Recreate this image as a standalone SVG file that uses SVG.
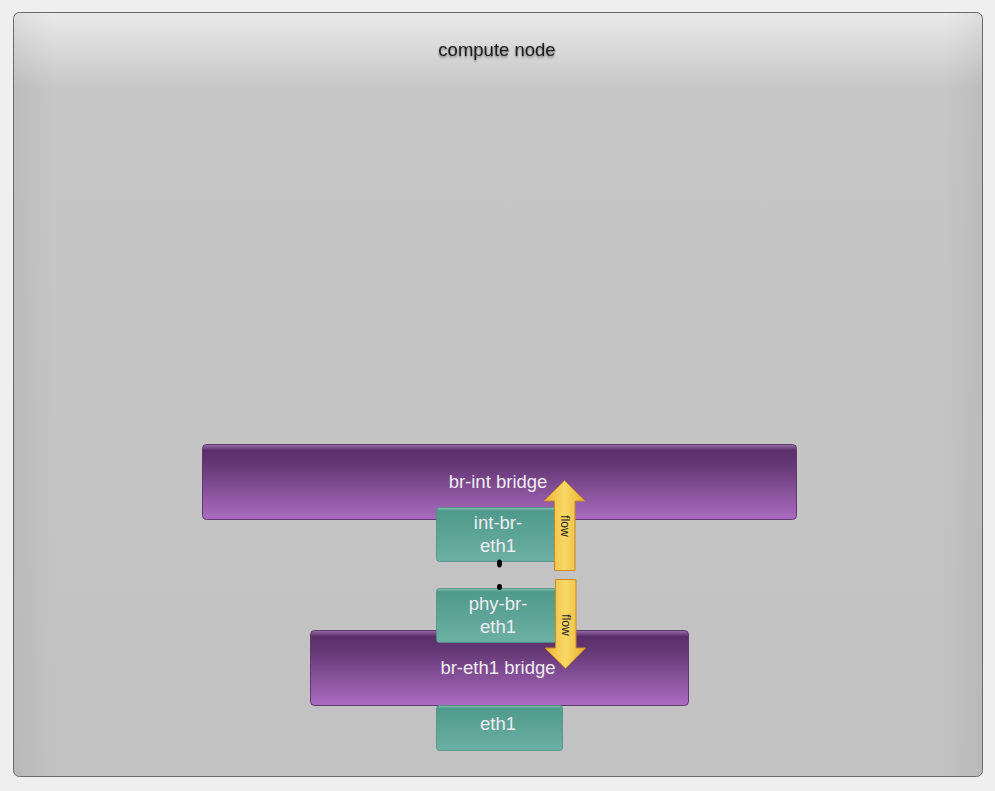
<svg xmlns="http://www.w3.org/2000/svg" width="995" height="791" viewBox="0 0 995 791">
<defs>
<linearGradient id="bg" x1="0" y1="0" x2="0" y2="1">
<stop offset="0" stop-color="#eaeaea"/>
<stop offset="0.1" stop-color="#c6c6c6"/>
<stop offset="1" stop-color="#c2c2c2"/>
</linearGradient>
<linearGradient id="side" x1="0" y1="0" x2="1" y2="0">
<stop offset="0" stop-color="#000" stop-opacity="0.05"/>
<stop offset="0.04" stop-color="#000" stop-opacity="0"/>
<stop offset="0.96" stop-color="#000" stop-opacity="0"/>
<stop offset="1" stop-color="#000" stop-opacity="0.05"/>
</linearGradient>
<linearGradient id="purple" x1="0" y1="0" x2="0" y2="1">
<stop offset="0" stop-color="#9a70a8"/>
<stop offset="0.08" stop-color="#5a2e68"/>
<stop offset="0.3" stop-color="#673a78"/>
<stop offset="1" stop-color="#ab6cc0"/>
</linearGradient>
<linearGradient id="teal" x1="0" y1="0" x2="0" y2="1">
<stop offset="0" stop-color="#8cc4b8"/>
<stop offset="0.06" stop-color="#4f9a8b"/>
<stop offset="1" stop-color="#6cb0a3"/>
</linearGradient>
<linearGradient id="gold" x1="0" y1="0" x2="1" y2="0">
<stop offset="0" stop-color="#eab538"/>
<stop offset="0.5" stop-color="#f9d866"/>
<stop offset="1" stop-color="#e8b232"/>
</linearGradient>
<filter id="sh" x="-10%" y="-30%" width="120%" height="160%">
<feDropShadow dx="0" dy="1.5" stdDeviation="1" flood-color="#000" flood-opacity="0.5"/>
</filter>
</defs>
<style>
.lbl{font-family:"Liberation Sans",Arial,sans-serif;font-size:18.5px;fill:#f0ecf2;text-anchor:middle}
.bridge{fill:url(#purple);stroke:#5e3a6c;stroke-width:1}
.port{fill:url(#teal);stroke:#4e8e82;stroke-width:0.8}
.arrow{fill:url(#gold);stroke:#c98a1e;stroke-width:1}
.flow{font-family:"Liberation Sans",Arial,sans-serif;font-size:12px;fill:#222;text-anchor:middle}
</style>
<rect width="995" height="791" fill="#efefef"/>
<g id="compute-node">
<rect x="13.5" y="12.5" width="969" height="764" rx="6" fill="url(#bg)" stroke="#6a6a6a" stroke-width="1"/>
<rect x="14" y="13" width="968" height="763" rx="6" fill="url(#side)"/>
<text x="497" y="56" font-family="Liberation Sans,Arial,sans-serif" font-size="18.5" fill="#1c1c1c" text-anchor="middle" filter="url(#sh)">compute node</text>
</g>
<g id="br-int">
<rect class="bridge" x="202.5" y="444.5" width="594" height="75" rx="4"/>
<text class="lbl" x="498" y="488">br-int bridge</text>
</g>
<g id="int-br-eth1">
<rect class="port" x="436.5" y="507.5" width="120" height="54" rx="3"/>
<text class="lbl" x="498" y="529">int-br-</text>
<text class="lbl" x="498" y="552">eth1</text>
</g>
<g id="br-eth1">
<rect class="bridge" x="310.5" y="630.5" width="378" height="75" rx="4"/>
<text class="lbl" x="498" y="674">br-eth1 bridge</text>
</g>
<g id="phy-br-eth1">
<rect class="port" x="436.5" y="588.5" width="120" height="54" rx="3"/>
<text class="lbl" x="498" y="610">phy-br-</text>
<text class="lbl" x="498" y="633">eth1</text>
</g>
<g id="eth1">
<rect class="port" x="436.5" y="705.5" width="126" height="45" rx="3"/>
<text class="lbl" x="498" y="730">eth1</text>
</g>
<g id="connectors">
<ellipse cx="499.5" cy="563.5" rx="2.5" ry="4" fill="#000"/>
<ellipse cx="499.5" cy="587" rx="2.5" ry="3" fill="#000"/>
</g>
<g id="flow-up">
<path class="arrow" d="M554.5,570.5 L554.5,501 L544,501 L564.5,480.5 L585,501 L575,501 L575,570.5 Z"/>
<text class="flow" transform="translate(560.5,526) rotate(90)">flow</text>
</g>
<g id="flow-down">
<path class="arrow" d="M555.5,579.5 L576,579.5 L576,648 L585.5,648 L565.5,668.5 L545,648 L555.5,648 Z"/>
<text class="flow" transform="translate(561.5,625) rotate(90)">flow</text>
</g>
</svg>
